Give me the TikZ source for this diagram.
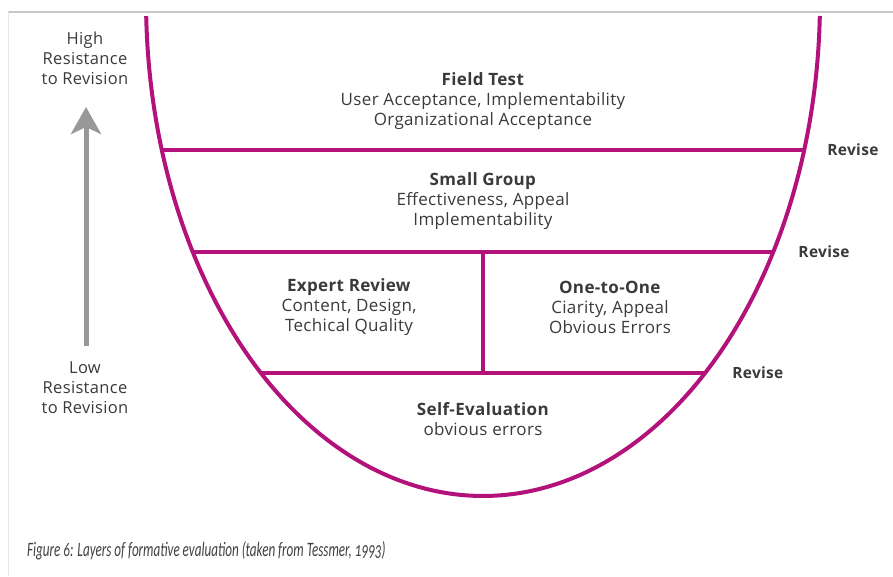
\documentclass[tikz,border=0pt]{standalone}
\usepackage{fontspec}
\setmainfont[LetterSpace=2]{Open Sans}
\newfontfamily\capfont[Numbers=OldStyle]{Carlito}
\usepackage{tikz}
\usetikzlibrary{arrows.meta,positioning}

\definecolor{cupmagenta}{RGB}{178,18,122}
\definecolor{labelgray}{RGB}{58,58,58}
\definecolor{arrowgray}{RGB}{152,152,152}

\begin{document}
\begin{tikzpicture}[x=1pt,y=-1pt,
  band/.style={draw=cupmagenta,line width=4pt},
  layer/.style={align=center,text=labelgray,font=\fontsize{17}{20}\selectfont},
  revise/.style={anchor=west,inner sep=0pt,text=labelgray,font=\fontsize{15.5}{20}\selectfont\bfseries},
  side/.style={align=center,text=labelgray,font=\fontsize{16.5}{20}\selectfont}]
\useasboundingbox (0,0) rectangle (893,576);
%frame
\draw[black!22,line width=2pt] (8,12) -- (893,12);
\draw[black!9,line width=0.8pt] (8,12) -- (8,576);
%cup
\draw[band] plot[domain=1.85:178.15,samples=120,smooth] ({483+337*cos(\x)},{496*sin(\x)});
%layers
\foreach \lvl/\yy in {ft/150,sg/252,ev/373}{
  \pgfmathsetmacro\hw{337*sqrt(1-(\yy/496)^2)}
  \coordinate (\lvl-l) at (483-\hw,\yy);
  \coordinate (\lvl-r) at (483+\hw,\yy);
}
\draw[band] (ft-l) -- (ft-r);
\draw[band] (sg-l) -- (sg-r);
\draw[band] (ev-l) -- (ev-r);
\coordinate (mid-t) at (483,252);
\coordinate (mid-b) at (483,373);
\draw[band] (mid-t) -- (mid-b);
%Text
\node[layer] (ft) at (483,101) {\textbf{Field Test}\\User Acceptance, Implementability\\Organizational Acceptance};
\node[layer] (sg) at (483,201) {\textbf{Small Group}\\Effectiveness, Appeal\\Implementability};
\node[layer] (er) at (349,307) {\textbf{Expert Review}\\Content, Design,\\Techical Quality};
\node[layer] (oo) at (610,307) {\textbf{One-to-One}\\Ciarity, Appeal\\Obvious Errors};
\node[layer] (se) at (483,419) {\textbf{Self-Evaluation}\\obvious errors};
\node[revise,right=23pt of ft-r] (rev1) {Revise};
\node[revise,right=25pt of sg-r] (rev2) {Revise};
\node[revise,right=27pt of ev-r] (rev3) {Revise};
%resistance
\node[side] (high) at (85,58) {High\\Resistance\\to Revision};
\node[side] (low) at (85,388) {Low\\Resistance\\to Revision};
\coordinate (arr-b) at (86,346);
\coordinate (arr-t) at (86,107);
\draw[arrowgray,line width=5pt,-{Stealth[length=27pt,width=30pt,inset=7pt]}] (arr-b) -- (arr-t);
%caption
\node[anchor=west,inner sep=0pt,text=black!75,xscale=0.64,transform shape,font=\capfont\itshape\fontsize{20.5}{22}\selectfont] (caption) at (27,551) {Figure 6: Layers of formative evaluation (taken from Tessmer, 1993)};
\end{tikzpicture}
\end{document}
